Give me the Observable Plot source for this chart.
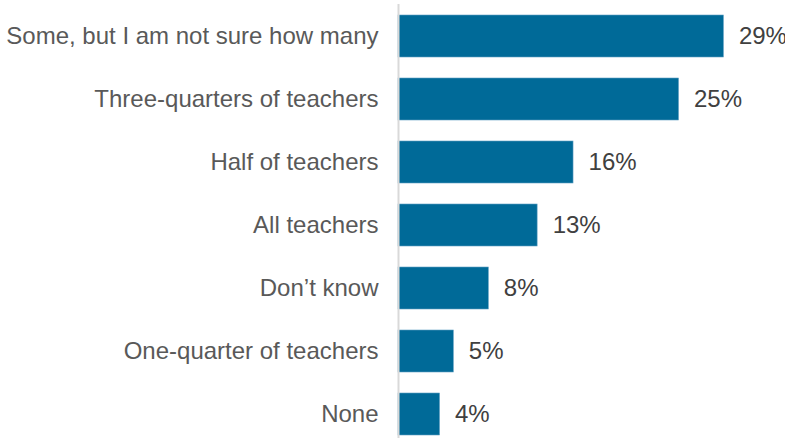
<!DOCTYPE html>
<html>
<head>
<meta charset="utf-8">
<script src="https://cdn.jsdelivr.net/npm/d3@7"></script>
<script src="https://cdn.jsdelivr.net/npm/@observablehq/plot@0.6"></script>
<style>
  html, body { margin: 0; padding: 0; background: #fff; }
  #chart svg { display: block; overflow: visible; }
</style>
</head>
<body>
<div id="chart"></div>
<script>
const categories = [
  "Some, but I am not sure how many",
  "Three-quarters of teachers",
  "Half of teachers",
  "All teachers",
  "Don\u2019t know",
  "One-quarter of teachers",
  "None"
];
const values = [29, 25, 15.6, 12.4, 8.05, 4.93, 3.7];
const valueLabels = ["29%", "25%", "16%", "13%", "8%", "5%", "4%"];

const data = categories.map((c, i) => ({category: c, value: values[i], label: valueLabels[i]}));

const chart = Plot.plot({
  width: 785,
  height: 438,
  marginTop: 4,
  marginBottom: 0,
  marginLeft: 398,
  marginRight: 50.4,
  style: {fontFamily: "Liberation Sans, Arial, sans-serif", background: "#fff"},
  x: {domain: [0, 30], axis: null},
  y: {domain: categories, paddingInner: 0.338, paddingOuter: 0.107, align: 0.763, label: null},
  marks: [
    Plot.barX(data, {y: "category", x: "value", fill: "#006a98", stroke: "#5f9fc2", strokeWidth: 0.6}),
    Plot.ruleX([0], {stroke: "#d9d9d9", strokeWidth: 2}),
    Plot.axisY({tickSize: 0, tickPadding: 20, fontSize: 24, fill: "#595959", label: null}),
    Plot.text(data, {y: "category", x: "value", text: "label", textAnchor: "start", dx: 15, fontSize: 24, fill: "#404040"})
  ]
});
document.getElementById("chart").appendChild(chart);
</script>
</body>
</html>
